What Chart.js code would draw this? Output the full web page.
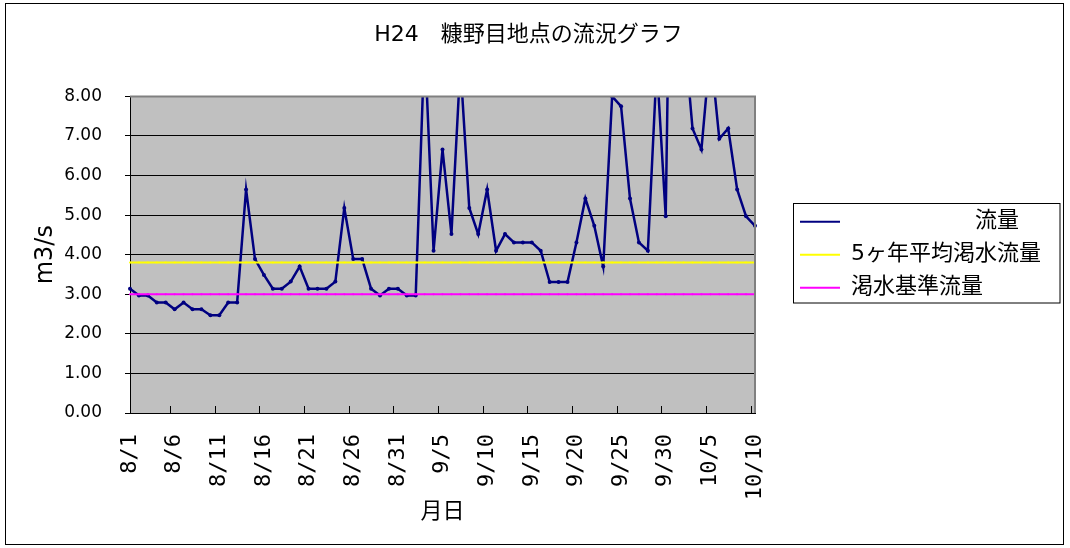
<!DOCTYPE html>
<html>
<head>
<meta charset="utf-8">
<script src="https://cdn.jsdelivr.net/npm/chart.js@4"></script>
<style>
  body { margin: 0; background: #fff; }
</style>
</head>
<body>
<canvas id="flowChart" width="1070" height="548"></canvas>
<script>
// 月日 (8/1 - 10/10)
var dates = [
  '8/1','8/2','8/3','8/4','8/5','8/6','8/7','8/8','8/9','8/10',
  '8/11','8/12','8/13','8/14','8/15','8/16','8/17','8/18','8/19','8/20',
  '8/21','8/22','8/23','8/24','8/25','8/26','8/27','8/28','8/29','8/30',
  '8/31','9/1','9/2','9/3','9/4','9/5','9/6','9/7','9/8','9/9',
  '9/10','9/11','9/12','9/13','9/14','9/15','9/16','9/17','9/18','9/19',
  '9/20','9/21','9/22','9/23','9/24','9/25','9/26','9/27','9/28','9/29',
  '9/30','10/1','10/2','10/3','10/4','10/5','10/6','10/7','10/8','10/9',
  '10/10'
];

// 流量 m3/s (values above 8 run off the top of the plot)
var flow = [
  3.14, 2.97, 2.97, 2.79, 2.79, 2.62, 2.79, 2.62, 2.62, 2.47,
  2.47, 2.79, 2.79, 5.65, 3.89, 3.49, 3.14, 3.14, 3.32, 3.70,
  3.14, 3.14, 3.14, 3.32, 5.18, 3.89, 3.89, 3.14, 2.97, 3.14,
  3.14, 2.97, 2.97, 9.40, 4.10, 6.66, 4.52, 8.80, 5.18, 4.52,
  5.65, 4.10, 4.52, 4.31, 4.31, 4.31, 4.10, 3.31, 3.31, 3.31,
  4.31, 5.42, 4.73, 3.70, 8.00, 7.75, 5.42, 4.31, 4.10, 8.80,
  4.97, 20.0, 9.80, 7.19, 6.66, 9.20, 6.93, 7.19, 5.65, 4.97,
  4.73
];

var avgLowFlow = 3.8;   // 5ヶ年平均渇水流量
var baseLowFlow = 3.0;  // 渇水基準流量

var seriesNames = ['　　　　　  流量', '5ヶ年平均渇水流量', '渇水基準流量'];
var seriesColors = ['#000080', '#ffff00', '#ff00ff'];

var sansFont = '"DejaVu Sans", "Noto Sans CJK JP", sans-serif';

Chart.defaults.font.family = sansFont;
Chart.defaults.color = '#000';

// background, plot frame, inner ticks, legend box, outer frame
var framePlugin = {
  id: 'frame',
  beforeDraw: function (chart) {
    var ctx = chart.ctx, a = chart.chartArea;
    ctx.save();
    ctx.fillStyle = '#fff';
    ctx.fillRect(0, 0, chart.width, chart.height);
    ctx.fillStyle = '#c0c0c0';
    ctx.fillRect(a.left, a.top, a.right - a.left, a.bottom - a.top);
    ctx.restore();
  },
  afterDraw: function (chart) {
    var ctx = chart.ctx, a = chart.chartArea, xs = chart.scales.x, lg = chart.legend;
    ctx.save();
    ctx.strokeStyle = '#808080';
    ctx.lineWidth = 2;
    ctx.beginPath();
    ctx.moveTo(a.left, a.top);
    ctx.lineTo(a.right, a.top);
    ctx.lineTo(a.right, a.bottom);
    ctx.stroke();

    ctx.strokeStyle = '#000';
    ctx.lineWidth = 1;
    for (var i = 5; i < dates.length; i += 5) {
      var x = Math.round((xs.getPixelForValue(i) + xs.getPixelForValue(i - 1)) / 2) + 0.5;
      ctx.beginPath();
      ctx.moveTo(x, a.bottom);
      ctx.lineTo(x, a.bottom - 7);
      ctx.stroke();
    }

    var hb = lg.legendHitBoxes;
    var last = hb[hb.length - 1];
    var bx = Math.round(lg.left + 4) + 0.5;
    var by = Math.round(hb[0].top - 8) + 0.5;
    ctx.strokeRect(bx, by, Math.round(lg.right + 9) - bx, Math.round(last.top + last.height + 4) - by);

    ctx.strokeRect(5.5, 3.5, 1058, 541);
    ctx.restore();
  }
};

var config = {
  type: 'line',
  data: {
    labels: dates,
    datasets: [
      {
        label: seriesNames[0],
        data: flow,
        borderColor: seriesColors[0],
        backgroundColor: seriesColors[0],
        borderWidth: 2.5,
        pointRadius: 2,
        pointBorderWidth: 0,
        order: 2
      },
      {
        label: seriesNames[1],
        data: dates.map(function () { return avgLowFlow; }),
        borderColor: seriesColors[1],
        backgroundColor: seriesColors[1],
        borderWidth: 2,
        pointRadius: 1,
        pointBorderWidth: 0,
        order: 1
      },
      {
        label: seriesNames[2],
        data: dates.map(function () { return baseLowFlow; }),
        borderColor: seriesColors[2],
        backgroundColor: seriesColors[2],
        borderWidth: 2,
        pointRadius: 1,
        pointBorderWidth: 0,
        order: 1
      }
    ]
  },
  options: {
    responsive: false,
    animation: false,
    layout: { padding: { top: 10, left: 6, right: 19, bottom: 20 } },
    plugins: {
      title: {
        display: true,
        text: 'H24　糠野目地点の流況グラフ',
        font: { size: 22, weight: 'normal' },
        color: '#000',
        padding: { top: 12, bottom: 48 }
      },
      legend: {
        position: 'right',
        fullSize: false,
        maxWidth: 300,
        labels: {
          usePointStyle: true,
          pointStyle: 'line',
          pointStyleWidth: 40,
          padding: 11,
          color: '#000',
          font: { size: 22 },
          sort: function (a, b) { return a.datasetIndex - b.datasetIndex; },
          generateLabels: function (chart) {
            var items = Chart.defaults.plugins.legend.labels.generateLabels(chart);
            items.forEach(function (it) {
              it.lineWidth = 2;
              it.strokeStyle = seriesColors[it.datasetIndex];
            });
            return items;
          }
        }
      },
      tooltip: { enabled: false }
    },
    scales: {
      x: {
        grid: { display: false },
        border: { color: '#000', width: 1 },
        ticks: {
          autoSkip: false,
          maxRotation: 90,
          minRotation: 90,
          padding: 13,
          font: { family: '"DejaVu Sans Mono", monospace', size: 22 },
          callback: function (v, i) { return i % 5 === 0 ? dates[i] : ''; }
        },
        title: {
          display: true,
          text: '月日',
          font: { size: 22 },
          padding: { top: 0, bottom: 3 }
        },
        afterFit: function (s) { s.height = 115; }
      },
      y: {
        min: 0,
        max: 8,
        grid: {
          color: function (c) { return c.tick && c.tick.value === 8 ? '#808080' : '#000'; },
          tickColor: '#000',
          tickLength: 5
        },
        border: { color: '#000', width: 1 },
        ticks: {
          stepSize: 1,
          padding: 23,
          font: { size: 17 },
          callback: function (v) { return v.toFixed(2); }
        },
        title: {
          display: true,
          text: 'm3/s',
          font: { size: 24 },
          padding: { top: 25, bottom: 0 }
        },
        afterFit: function (s) { s.width = 124; }
      },
      gap: {
        position: 'right',
        display: true,
        grid: { display: false },
        border: { display: false },
        ticks: { display: false },
        afterFit: function (s) { s.width = 34; }
      }
    }
  },
  plugins: [framePlugin]
};

var flowChart = new Chart(document.getElementById('flowChart'), config);
</script>
</body>
</html>
